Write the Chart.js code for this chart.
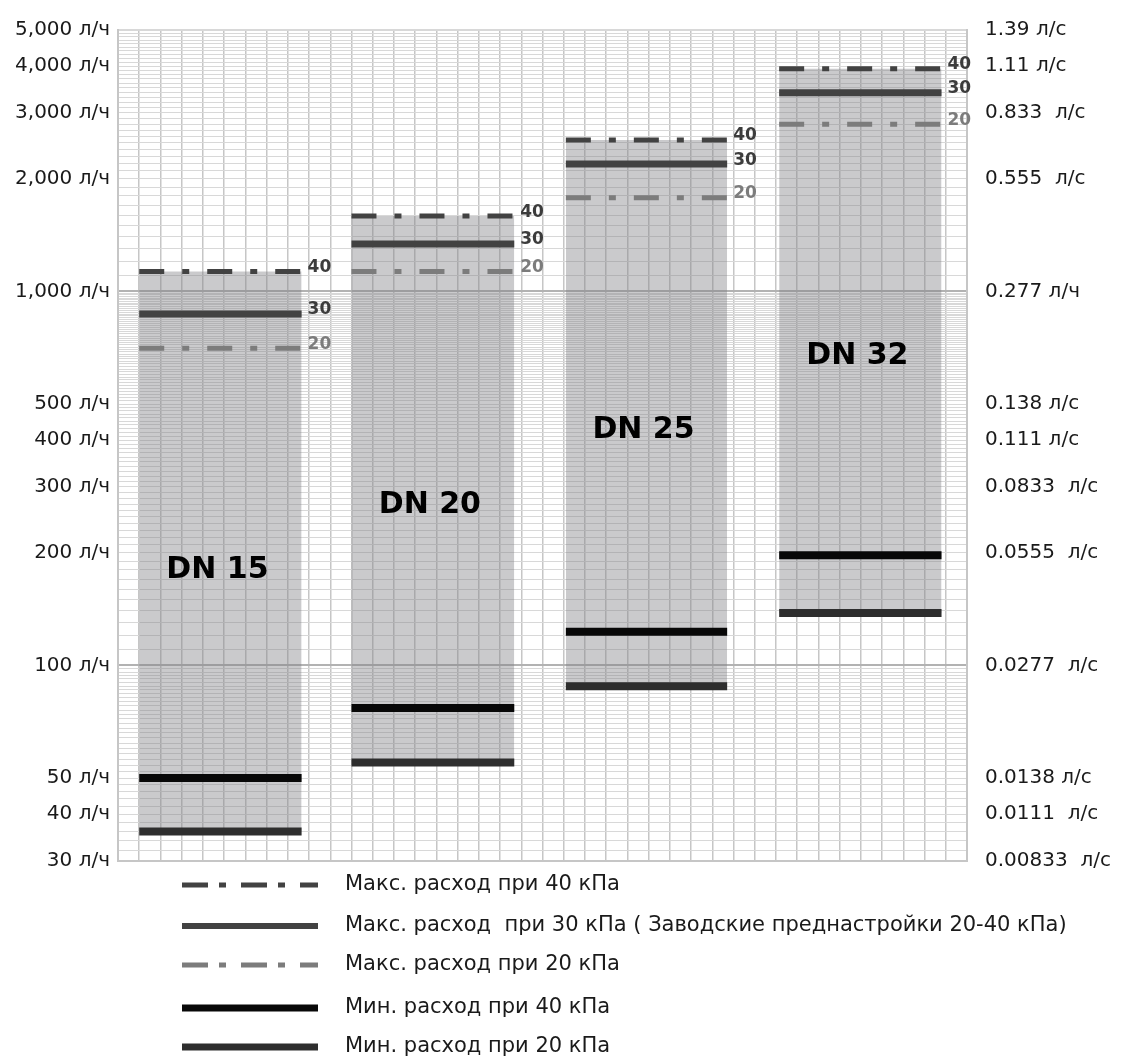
<!DOCTYPE html>
<html lang="ru">
<head>
<meta charset="utf-8">
<title>DN 15 - DN 32</title>
<script src="https://cdn.jsdelivr.net/npm/chart.js@4.4.1/dist/chart.umd.min.js"></script>
<style>
  html, body { margin: 0; padding: 0; background: #fff; }
  #wrap { width: 1122px; height: 1059px; position: relative; }
</style>
</head>
<body>
<div id="wrap"><canvas id="flowChart"></canvas></div>
<script>
// ---- data (л/ч) ----
const sizes    = ['DN 15', 'DN 20', 'DN 25', 'DN 32'];
const barStart = [1, 11, 21.1, 31.15];      // x units (grid columns)
const barEnd   = [8.65, 18.67, 28.7, 38.8];
const max40    = [1130, 1590, 2540, 3940];
const max30    = [870, 1340, 2190, 3400];
const max20    = [705, 1130, 1780, 2800];
const min40    = [50, 77, 123, 197];
const min20    = [36, 55, 88, 138];
const sizeLabelAt = [180, 268, 426, 670];   // where the "DN xx" caption sits

const tickValues = [30, 40, 50, 100, 200, 300, 400, 500, 1000, 2000, 3000, 4000, 5000];
const leftTickText = ['30 л/ч', '40 л/ч', '50 л/ч', '100 л/ч', '200 л/ч', '300 л/ч', '400 л/ч',
  '500 л/ч', '1,000 л/ч', '2,000 л/ч', '3,000 л/ч', '4,000 л/ч', '5,000 л/ч'];
const rightTickText = ['0.00833  л/с', '0.0111  л/с', '0.0138 л/с', '0.0277  л/с', '0.0555  л/с',
  '0.0833  л/с', '0.111 л/с', '0.138 л/с', '0.277 л/ч', '0.555  л/с', '0.833  л/с', '1.11 л/с', '1.39 л/с'];

const levelLabels = ['40', '30', '20'];
const legendText = [
  'Макс. расход при 40 кПа',
  'Макс. расход  при 30 кПа ( Заводские преднастройки 20-40 кПа)',
  'Макс. расход при 20 кПа',
  'Мин. расход при 40 кПа',
  'Мин. расход при 20 кПа'
];

(function(){
  const FONT = '"DejaVu Sans", sans-serif';
  const DASH_DOT = [25, 18, 7, 18];

  // log-paper grid: 2 / 10 / 100 steps per decade
  const gridVals = [];
  for (let v = 30; v < 100; v += 2) gridVals.push(v);
  for (let v = 100; v < 1000; v += 10) gridVals.push(v);
  for (let v = 1000; v <= 5000; v += 100) gridVals.push(v);

  function levelData(arr){
    const out = [];
    arr.forEach((v, i) => {
      out.push({x: barStart[i], y: v}, {x: barEnd[i], y: v}, {x: barEnd[i] + 0.5, y: null});
    });
    return out;
  }

  const levels = [
    { label: legendText[0], data: max40, color: '#424242', width: 5, dash: DASH_DOT, legendDash: [26, 11, 7, 15], legendWidth: 5 },
    { label: legendText[1], data: max30, color: '#424242', width: 7, dash: [], legendDash: [], legendWidth: 6 },
    { label: legendText[2], data: max20, color: '#7c7c7c', width: 5, dash: DASH_DOT, legendDash: [26, 11, 7, 15], legendWidth: 5 },
    { label: legendText[3], data: min40, color: '#080808', width: 8, dash: [], legendDash: [], legendWidth: 7 },
    { label: legendText[4], data: min20, color: '#2e2e2e', width: 8, dash: [], legendDash: [], legendWidth: 7 }
  ];

  const datasets = [];
  // grey ranges: from min@20 up to max@40 (order 2 -> drawn under the lines)
  sizes.forEach((s, i) => {
    datasets.push({
      label: s,
      order: 2,
      data: [{x: barStart[i], y: max40[i]}, {x: barEnd[i], y: max40[i]}],
      fill: {value: min20[i]},
      backgroundColor: 'rgba(128,128,134,0.42)',
      borderWidth: 0,
      pointRadius: 0
    });
  });
  levels.forEach(l => {
    datasets.push({
      label: l.label,
      order: 1,
      data: levelData(l.data),
      borderColor: l.color,
      borderWidth: l.width,
      borderDash: l.dash,
      borderCapStyle: 'butt',
      spanGaps: false,
      fill: false,
      pointRadius: 0
    });
  });

  // "40 / 30 / 20" tags and DN captions
  const tagPlugin = {
    id: 'tagPlugin',
    afterDatasetsDraw(chart){
      const {ctx} = chart;
      const xs = chart.scales.x, ys = chart.scales.y;
      ctx.save();
      ctx.textBaseline = 'middle';
      ctx.textAlign = 'left';
      ctx.font = 'bold 17px ' + FONT;
      const tagColors = ['#3c3c3c', '#3c3c3c', '#7c7c7c'];
      [max40, max30, max20].forEach((arr, k) => {
        ctx.fillStyle = tagColors[k];
        arr.forEach((v, i) => {
          ctx.fillText(levelLabels[k], xs.getPixelForValue(barEnd[i]) + 6, ys.getPixelForValue(v) - 4);
        });
      });
      ctx.font = 'bold 30px ' + FONT;
      ctx.textAlign = 'center';
      ctx.fillStyle = '#000';
      sizes.forEach((s, i) => {
        const cx = (xs.getPixelForValue(barStart[i]) + xs.getPixelForValue(barEnd[i])) / 2 - 3;
        ctx.fillText(s, cx, ys.getPixelForValue(sizeLabelAt[i]));
      });
      ctx.restore();
    }
  };

  // legend list under the plot
  const legendPlugin = {
    id: 'legendList',
    afterDraw(chart){
      const {ctx, chartArea} = chart;
      const rows = [24, 65, 104, 147, 186];
      ctx.save();
      levels.forEach((l, i) => {
        const y = chartArea.bottom + rows[i];
        ctx.beginPath();
        ctx.setLineDash(l.legendDash);
        ctx.lineCap = 'butt';
        ctx.strokeStyle = l.color;
        ctx.lineWidth = l.legendWidth;
        ctx.moveTo(182, y);
        ctx.lineTo(318, y);
        ctx.stroke();
        ctx.setLineDash([]);
        ctx.fillStyle = '#1a1a1a';
        ctx.font = '21px ' + FONT;
        ctx.textAlign = 'left';
        ctx.textBaseline = 'middle';
        ctx.fillText(l.label, 345, y);
      });
      ctx.restore();
    }
  };

  const labelFor = (texts) => (v) => {
    const i = tickValues.indexOf(Number(v));
    return i >= 0 ? texts[i] : '';
  };

  new Chart(document.getElementById('flowChart'), {
    type: 'line',
    data: { datasets },
    options: {
      responsive: true,
      maintainAspectRatio: false,
      animation: false,
      events: [],
      layout: { padding: { top: 24, right: 0, bottom: 198, left: 0 } },
      plugins: { legend: { display: false }, tooltip: { enabled: false } },
      scales: {
        x: {
          type: 'linear', min: 0, max: 40,
          ticks: { display: false, stepSize: 1 },
          grid: { color: '#c6c6c6', lineWidth: 1.5, drawTicks: false },
          border: { color: '#c6c6c6', width: 2 },
          afterFit(s){ s.height = 0; }
        },
        y: {
          type: 'logarithmic', position: 'left', min: 30, max: 5000,
          afterBuildTicks(s){ s.ticks = gridVals.map(v => ({value: v})); },
          afterFit(s){ s.width = 118; },
          ticks: {
            autoSkip: false, padding: 8, color: '#1a1a1a',
            font: { family: FONT, size: 20 },
            callback: labelFor(leftTickText)
          },
          grid: {
            drawTicks: false,
            color: (c) => [100, 1000].includes(c.tick && c.tick.value) ? '#b2b2b2' : '#d8d8d8',
            lineWidth: (c) => [100, 1000, 5000].includes(c.tick && c.tick.value) ? 2 : 1
          },
          border: { color: '#c6c6c6', width: 2 }
        },
        y2: {
          type: 'logarithmic', position: 'right', min: 30, max: 5000,
          afterBuildTicks(s){ s.ticks = tickValues.map(v => ({value: v})); },
          afterFit(s){ s.width = 155; },
          ticks: {
            autoSkip: false, padding: 18, color: '#1a1a1a',
            font: { family: FONT, size: 20 },
            callback: labelFor(rightTickText)
          },
          grid: { drawOnChartArea: false, drawTicks: false },
          border: { color: '#c6c6c6', width: 2 }
        }
      }
    },
    plugins: [tagPlugin, legendPlugin]
  });
})();
</script>
</body>
</html>
